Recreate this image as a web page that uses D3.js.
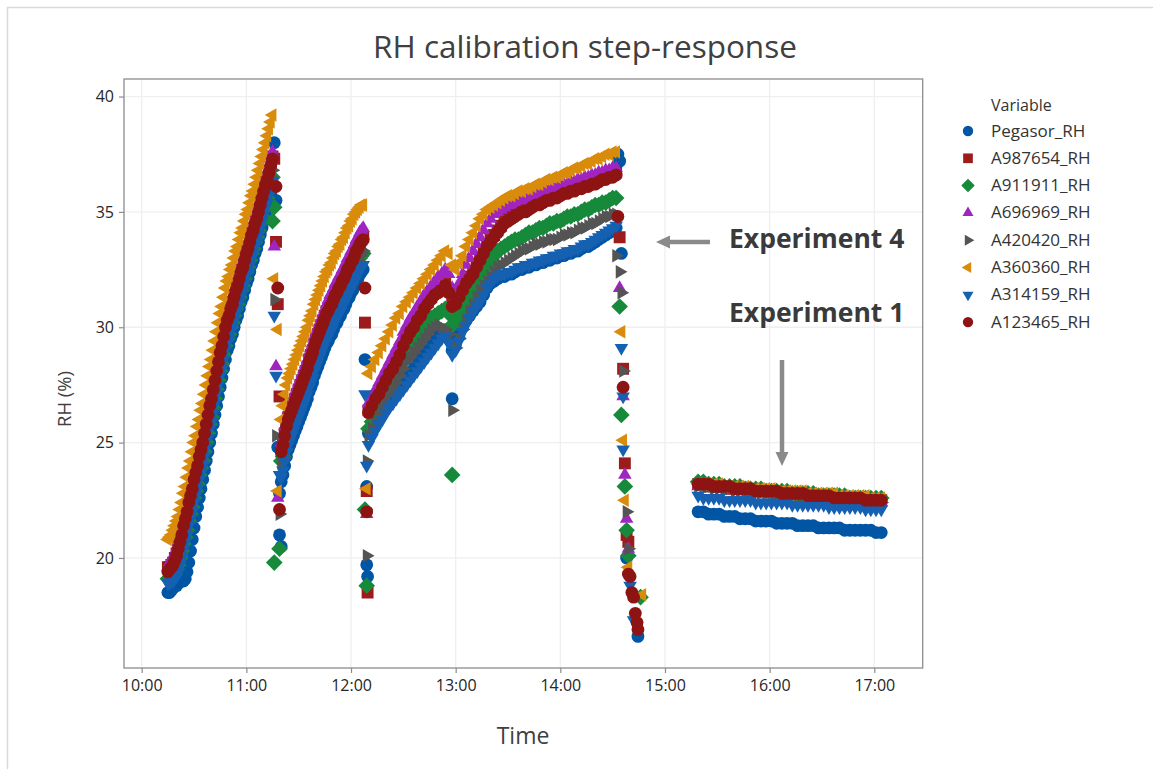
<!DOCTYPE html>
<html>
<head>
<meta charset="utf-8">
<script src="https://cdn.jsdelivr.net/npm/d3@7"></script>
<style>
  body { margin: 0; background: #fff; }
  svg { display: block; }
  text { font-family: "Open Sans", "Noto Sans", sans-serif; }
</style>
</head>
<body>
<svg id="chart" width="1153" height="769"></svg>
<script>
// ---------- axis ticks ----------
const hourTicks = ["10:00", "11:00", "12:00", "13:00", "14:00", "15:00", "16:00", "17:00"];
const rhTicks = [20, 25, 30, 35, 40];

// ---------- logging segments: start time and sample interval (minutes) ----------
const segStarts = ["10:15", "11:20", "12:10", "15:19"];
const segSteps = [1, 1, 2, 3];

// ---------- Pegasor_RH ----------
const pegasorA = [18.5,18.5,18.6,18.7,18.8,18.8,18.9,19.0,19.0,19.0,19.1,19.4,19.8,20.3,20.8,21.3,21.8,22.2,22.6,23.0,23.4,23.8,24.2,24.6,25.0,25.4,25.8,26.2,26.6,27.0,27.4,27.8,28.2,28.6,29.0,29.2,29.5,29.7,30.0,30.3,30.5,30.8,31.1,31.3,31.6,31.9,32.1,32.4,32.7,32.9,33.2,33.4,33.7,34.0,34.3,34.6,34.9,35.2,35.5,35.8,36.1];
const pegasorB = [23.3,23.6,24.0,24.4,24.7,24.9,25.1,25.3,25.5,25.7,25.9,26.1,26.3,26.5,26.7,26.9,27.2,27.4,27.6,27.9,28.1,28.3,28.5,28.7,28.9,29.1,29.3,29.4,29.6,29.7,29.9,30.1,30.2,30.4,30.5,30.7,30.8,31.0,31.2,31.3,31.5,31.6,31.8,32.0,32.1,32.3,32.4,32.5];
const pegasorC = [25.4,25.6,25.9,26.1,26.3,26.6,26.8,27.0,27.2,27.4,27.6,27.8,28.0,28.2,28.4,28.6,28.8,29.0,29.2,29.4,29.6,29.8,29.9,29.6,29.0,29.3,29.7,30.0,30.3,30.5,30.7,30.9,31.1,31.4,31.7,31.9,32.0,32.1,32.2,32.2,32.3,32.3,32.4,32.5,32.5,32.6,32.6,32.7,32.7,32.8,32.8,32.9,32.9,33.0,33.0,33.1,33.1,33.2,33.2,33.3,33.3,33.4,33.5,33.5,33.6,33.7,33.8,33.9,34.0,34.1,34.2,34.3];
const pegasorD = [22.0,22.0,21.9,21.9,21.9,21.8,21.8,21.8,21.7,21.7,21.7,21.6,21.6,21.6,21.6,21.5,21.5,21.5,21.5,21.4,21.4,21.4,21.4,21.3,21.3,21.3,21.3,21.3,21.2,21.2,21.2,21.2,21.2,21.2,21.1,21.1];
const pegasorSteps = [["11:16",38.0],["11:17",35.5],["11:18",24.8],["11:19",22.8],["11:19",21.0],["11:20",20.5],["12:08",28.6],["12:09",23.1],["12:09",19.7],["12:09:30",19.2],["12:58",26.9],["14:33",37.5],["14:34",37.2],["14:35",33.2],["14:38",20.0],["14:44:30",16.6]];

// ---------- A987654_RH ----------
const a987654A = [19.6,19.6,19.7,19.8,20.0,20.2,20.5,20.8,21.1,21.5,21.8,22.1,22.5,22.8,23.1,23.5,23.8,24.1,24.5,24.8,25.1,25.5,25.9,26.3,26.7,27.0,27.4,27.8,28.2,28.6,29.0,29.3,29.7,30.1,30.4,30.6,30.9,31.1,31.4,31.7,31.9,32.2,32.5,32.7,33.0,33.3,33.5,33.8,34.1,34.3,34.6,34.8,35.1,35.4,35.7,36.0,36.3,36.5,36.8,37.1,37.4];
const a987654B = [24.7,25.0,25.4,25.8,26.1,26.3,26.5,26.7,26.9,27.1,27.3,27.5,27.7,27.9,28.1,28.3,28.6,28.8,29.0,29.3,29.5,29.7,29.9,30.1,30.3,30.5,30.7,30.8,31.0,31.1,31.3,31.5,31.6,31.8,31.9,32.1,32.2,32.4,32.6,32.7,32.9,33.0,33.2,33.4,33.5,33.7,33.8,33.9];
const a987654C = [26.4,26.7,27.0,27.2,27.5,27.8,28.1,28.3,28.6,28.9,29.3,29.6,29.9,30.1,30.4,30.6,30.9,31.1,31.3,31.5,31.6,31.7,31.9,31.6,31.0,31.1,31.4,31.7,32.0,32.2,32.4,32.7,33.0,33.3,33.6,33.8,34.0,34.2,34.4,34.6,34.7,34.8,34.9,35.0,35.1,35.1,35.2,35.3,35.4,35.4,35.5,35.6,35.6,35.7,35.7,35.8,35.9,35.9,36.0,36.0,36.1,36.1,36.2,36.2,36.3,36.3,36.4,36.5,36.5,36.6,36.6,36.7];
const a987654D = [23.2,23.2,23.1,23.1,23.1,23.1,23.0,23.0,23.0,23.0,22.9,22.9,22.9,22.9,22.9,22.8,22.8,22.8,22.8,22.8,22.7,22.7,22.7,22.7,22.7,22.6,22.6,22.6,22.6,22.6,22.5,22.5,22.5,22.5,22.5,22.5];
const a987654Steps = [["11:16",37.3],["11:17",33.7],["11:18",31.0],["11:19",27.0],["12:08",30.2],["12:09",22.9],["12:09:30",18.5],["14:34",33.9],["14:36",28.2],["14:37",24.1],["14:38",21.0],["14:39",20.7]];

// ---------- A911911_RH ----------
const a911911A = [19.1,19.1,19.2,19.2,19.3,19.5,19.7,20.0,20.3,20.6,20.9,21.2,21.6,21.9,22.2,22.6,22.9,23.2,23.6,23.9,24.2,24.6,25.0,25.4,25.8,26.1,26.5,26.9,27.3,27.7,28.1,28.4,28.8,29.2,29.5,29.7,30.0,30.2,30.5,30.8,31.0,31.3,31.6,31.8,32.1,32.4,32.6,32.9,33.2,33.4,33.7,33.9,34.2,34.5,34.8,35.1,35.4,35.6,35.9,36.2,36.5];
const a911911B = [24.2,24.4,24.7,25.1,25.4,25.6,25.8,26.0,26.2,26.4,26.6,26.8,27.0,27.2,27.4,27.6,27.9,28.1,28.3,28.6,28.8,29.0,29.2,29.4,29.6,29.8,30.0,30.1,30.3,30.4,30.6,30.8,30.9,31.1,31.2,31.4,31.5,31.7,31.9,32.0,32.2,32.3,32.5,32.7,32.8,33.0,33.1,33.2];
const a911911C = [25.6,25.9,26.2,26.5,26.8,27.1,27.4,27.7,28.0,28.3,28.6,28.9,29.2,29.4,29.6,29.8,30.0,30.2,30.4,30.5,30.6,30.7,30.8,30.6,30.1,30.2,30.5,30.8,31.1,31.4,31.7,32.0,32.3,32.5,32.7,32.9,33.1,33.3,33.4,33.5,33.6,33.7,33.8,33.8,33.9,34.0,34.1,34.1,34.2,34.3,34.3,34.4,34.5,34.5,34.6,34.6,34.7,34.8,34.8,34.9,34.9,35.0,35.1,35.1,35.2,35.3,35.3,35.4,35.4,35.5,35.6,35.6];
const a911911D = [23.3,23.3,23.2,23.2,23.2,23.1,23.1,23.1,23.1,23.0,23.0,23.0,23.0,22.9,22.9,22.9,22.9,22.9,22.8,22.8,22.8,22.8,22.8,22.7,22.7,22.7,22.7,22.7,22.7,22.6,22.6,22.6,22.6,22.6,22.6,22.6];
const a911911Steps = [["11:15",34.6],["11:16",35.2],["11:19",20.4],["11:16",19.8],["12:08",22.1],["12:09",18.8],["12:58",23.6],["14:34",30.9],["14:35",26.2],["14:37",23.1],["14:38",21.2],["14:39",20.1],["14:46",18.3]];

// ---------- A696969_RH ----------
const a696969A = [19.6,19.8,19.9,20.0,20.2,20.4,20.7,21.0,21.3,21.7,22.0,22.3,22.7,23.0,23.3,23.7,24.0,24.3,24.7,25.0,25.3,25.7,26.1,26.5,26.9,27.2,27.6,28.0,28.4,28.8,29.2,29.5,29.9,30.3,30.6,30.8,31.1,31.3,31.6,31.9,32.1,32.4,32.7,32.9,33.2,33.5,33.7,34.0,34.3,34.5,34.8,35.0,35.3,35.6,35.9,36.2,36.5,36.7,37.0,37.3,37.6];
const a696969B = [25.0,25.3,25.7,26.1,26.4,26.6,26.8,27.0,27.2,27.4,27.6,27.8,28.0,28.2,28.4,28.6,28.9,29.1,29.3,29.6,29.8,30.0,30.2,30.4,30.6,30.8,31.0,31.2,31.4,31.5,31.7,31.9,32.0,32.2,32.3,32.5,32.6,32.8,33.0,33.1,33.3,33.4,33.6,33.8,33.9,34.1,34.2,34.3];
const a696969C = [26.7,27.0,27.3,27.6,27.9,28.2,28.5,28.8,29.1,29.4,29.8,30.1,30.4,30.6,30.9,31.1,31.4,31.6,31.8,32.0,32.2,32.3,32.5,32.3,31.7,31.6,31.9,32.3,32.7,33.0,33.3,33.6,33.9,34.2,34.5,34.7,34.9,35.0,35.1,35.2,35.3,35.3,35.4,35.5,35.5,35.6,35.6,35.7,35.8,35.8,35.9,35.9,36.0,36.0,36.1,36.1,36.2,36.2,36.3,36.3,36.4,36.4,36.5,36.5,36.6,36.6,36.7,36.7,36.8,36.8,36.9,36.9];
const a696969D = [23.1,23.1,23.1,23.1,23.0,23.0,23.0,23.0,22.9,22.9,22.9,22.9,22.9,22.8,22.8,22.8,22.8,22.8,22.7,22.7,22.7,22.7,22.7,22.6,22.6,22.6,22.6,22.6,22.6,22.5,22.5,22.5,22.5,22.5,22.5,22.4];
const a696969Steps = [["11:16",33.5],["11:17",28.3],["11:18",22.6],["12:09",21.9],["14:34",31.7],["14:36",27.0],["14:37",23.6],["14:38",21.7],["14:39",20.4]];

// ---------- A420420_RH ----------
const a420420A = [19.2,19.2,19.3,19.4,19.5,19.7,19.9,20.2,20.5,20.9,21.2,21.5,21.9,22.2,22.5,22.9,23.2,23.5,23.9,24.2,24.5,24.9,25.3,25.7,26.1,26.4,26.8,27.2,27.6,28.0,28.4,28.7,29.1,29.5,29.8,30.0,30.3,30.5,30.8,31.1,31.3,31.6,31.9,32.1,32.4,32.7,32.9,33.2,33.5,33.7,34.0,34.2,34.5,34.8,35.1,35.4,35.7,35.9,36.2,36.5,36.8];
const a420420B = [24.1,24.4,24.8,25.2,25.5,25.7,25.9,26.1,26.3,26.5,26.7,26.9,27.1,27.3,27.5,27.7,28.0,28.2,28.4,28.7,28.9,29.1,29.3,29.5,29.7,29.9,30.1,30.2,30.4,30.5,30.7,30.9,31.0,31.2,31.3,31.5,31.6,31.8,32.0,32.1,32.3,32.4,32.6,32.8,32.9,33.1,33.2,33.3];
const a420420C = [25.3,25.6,25.9,26.2,26.5,26.8,27.1,27.3,27.6,27.9,28.2,28.5,28.7,28.9,29.1,29.3,29.5,29.7,29.9,30.0,30.1,30.0,29.9,29.7,29.3,29.1,29.5,29.9,30.3,30.7,31.0,31.3,31.6,31.8,32.0,32.2,32.4,32.6,32.7,32.8,32.9,33.0,33.1,33.2,33.3,33.4,33.4,33.5,33.6,33.6,33.7,33.7,33.8,33.8,33.8,33.9,34.0,34.0,34.1,34.1,34.2,34.3,34.3,34.4,34.5,34.5,34.6,34.7,34.8,34.8,34.9,34.9];
const a420420D = [23.1,23.1,23.1,23.0,23.0,23.0,23.0,22.9,22.9,22.9,22.9,22.9,22.8,22.8,22.8,22.8,22.8,22.7,22.7,22.7,22.7,22.7,22.6,22.6,22.6,22.6,22.6,22.5,22.5,22.5,22.5,22.5,22.5,22.4,22.4,22.4];
const a420420Steps = [["11:16",31.2],["11:17",25.3],["11:19",21.9],["12:09",24.2],["12:09",20.1],["12:58",26.4],["14:32",33.1],["14:34",32.4],["14:35",31.5],["14:36",28.1],["14:38",22.0],["14:39",20.4]];

// ---------- A360360_RH ----------
const a360360A = [20.8,20.9,21.0,21.2,21.4,21.6,21.8,22.1,22.4,22.8,23.1,23.5,23.9,24.2,24.6,25.0,25.3,25.7,26.0,26.4,26.7,27.1,27.5,27.9,28.3,28.6,29.0,29.4,29.8,30.2,30.6,30.9,31.3,31.7,32.0,32.2,32.5,32.7,33.0,33.3,33.5,33.8,34.1,34.3,34.6,34.9,35.1,35.4,35.7,35.9,36.2,36.5,36.8,37.1,37.4,37.7,38.0,38.3,38.6,38.9,39.2];
const a360360B = [26.0,26.6,27.1,27.5,27.8,28.0,28.2,28.4,28.6,28.8,29.0,29.2,29.4,29.6,29.8,30.0,30.3,30.5,30.7,31.0,31.2,31.4,31.6,31.8,32.0,32.2,32.4,32.5,32.7,32.8,33.0,33.2,33.3,33.5,33.6,33.8,33.9,34.1,34.3,34.4,34.6,34.7,34.9,35.0,35.1,35.2,35.3,35.3];
const a360360C = [28.0,28.3,28.6,28.9,29.2,29.5,29.8,30.1,30.4,30.6,30.9,31.1,31.3,31.5,31.7,31.9,32.1,32.3,32.5,32.7,32.9,33.1,33.3,33.2,32.7,32.5,32.8,33.1,33.5,33.8,34.1,34.4,34.7,34.9,35.1,35.2,35.3,35.4,35.5,35.6,35.7,35.7,35.8,35.9,35.9,36.0,36.0,36.1,36.2,36.2,36.3,36.4,36.4,36.5,36.5,36.6,36.7,36.7,36.8,36.9,36.9,37.0,37.1,37.1,37.2,37.3,37.3,37.4,37.5,37.5,37.6,37.6];
const a360360D = [23.2,23.2,23.2,23.2,23.2,23.1,23.1,23.1,23.1,23.1,23.0,23.0,23.0,23.0,23.0,22.9,22.9,22.9,22.9,22.9,22.9,22.8,22.8,22.8,22.8,22.8,22.8,22.7,22.7,22.7,22.7,22.7,22.7,22.6,22.6,22.6];
const a360360Steps = [["11:16",32.1],["11:18",29.9],["11:18",22.9],["12:09",23.0],["14:35",29.8],["14:36",25.1],["14:37",22.5],["14:39",19.6],["14:47",18.4]];

// ---------- A314159_RH ----------
const a314159A = [18.9,18.9,19.0,19.0,19.1,19.2,19.4,19.7,20.0,20.4,20.7,21.0,21.4,21.7,22.0,22.4,22.7,23.0,23.4,23.7,24.0,24.4,24.8,25.2,25.6,25.9,26.3,26.7,27.1,27.5,27.9,28.2,28.6,29.0,29.3,29.5,29.8,30.0,30.3,30.6,30.8,31.1,31.4,31.6,31.9,32.2,32.4,32.7,33.0,33.2,33.5,33.7,34.0,34.3,34.6,34.9,35.2,35.4,35.7,36.0,36.3];
const a314159B = [23.5,23.8,24.2,24.6,24.9,25.1,25.3,25.5,25.7,25.9,26.1,26.3,26.5,26.7,26.9,27.1,27.4,27.6,27.8,28.1,28.3,28.5,28.7,28.9,29.1,29.3,29.5,29.6,29.8,29.9,30.1,30.3,30.4,30.6,30.7,30.9,31.0,31.2,31.4,31.5,31.7,31.8,32.0,32.2,32.3,32.5,32.6,32.7];
const a314159C = [24.9,25.2,25.5,25.8,26.0,26.3,26.5,26.7,26.9,27.1,27.3,27.5,27.7,27.9,28.1,28.3,28.5,28.7,28.9,29.1,29.3,29.5,29.6,29.3,28.8,29.0,29.4,29.8,30.1,30.4,30.7,30.9,31.1,31.4,31.7,31.9,32.1,32.2,32.3,32.3,32.4,32.4,32.5,32.6,32.6,32.7,32.7,32.8,32.8,32.9,32.9,33.0,33.0,33.1,33.1,33.2,33.2,33.3,33.3,33.4,33.4,33.5,33.6,33.6,33.7,33.8,33.9,34.0,34.1,34.2,34.3,34.4];
const a314159D = [22.7,22.6,22.6,22.6,22.6,22.5,22.5,22.5,22.5,22.5,22.5,22.4,22.4,22.4,22.4,22.4,22.4,22.4,22.3,22.3,22.3,22.3,22.3,22.3,22.3,22.2,22.2,22.2,22.2,22.2,22.2,22.2,22.1,22.1,22.1,22.1];
const a314159Steps = [["11:16",30.5],["11:17",27.9],["11:19",23.6],["12:08",27.1],["12:09",24.0],["14:35",29.1],["14:36",27.0],["14:36",24.7],["14:40",18.8],["14:42",17.3]];

// ---------- A123465_RH ----------
const a123465A = [19.4,19.5,19.6,19.7,19.9,20.1,20.4,20.7,21.0,21.4,21.7,22.0,22.4,22.7,23.0,23.4,23.7,24.0,24.4,24.7,25.0,25.4,25.8,26.2,26.6,26.9,27.3,27.7,28.1,28.5,28.9,29.2,29.6,30.0,30.3,30.5,30.8,31.0,31.3,31.6,31.8,32.1,32.4,32.6,32.9,33.2,33.4,33.7,34.0,34.2,34.5,34.7,35.0,35.3,35.6,35.9,36.2,36.4,36.7,37.0,37.3];
const a123465B = [24.6,24.9,25.3,25.7,26.0,26.2,26.4,26.6,26.8,27.0,27.2,27.4,27.6,27.8,28.0,28.2,28.5,28.7,28.9,29.2,29.4,29.6,29.8,30.0,30.2,30.4,30.6,30.7,30.9,31.0,31.2,31.4,31.5,31.7,31.8,32.0,32.1,32.3,32.5,32.6,32.8,32.9,33.1,33.3,33.4,33.6,33.7,33.8];
const a123465C = [26.3,26.6,26.9,27.1,27.4,27.7,28.0,28.2,28.5,28.8,29.2,29.5,29.8,30.0,30.3,30.5,30.8,31.0,31.2,31.4,31.5,31.6,31.8,31.5,30.9,31.0,31.3,31.6,31.9,32.1,32.3,32.6,32.9,33.2,33.5,33.7,33.9,34.1,34.3,34.5,34.6,34.7,34.8,34.9,35.0,35.0,35.1,35.2,35.3,35.3,35.4,35.5,35.5,35.6,35.6,35.7,35.8,35.8,35.9,35.9,36.0,36.0,36.1,36.1,36.2,36.2,36.3,36.4,36.4,36.5,36.5,36.6];
const a123465D = [23.2,23.2,23.2,23.1,23.1,23.1,23.1,23.0,23.0,23.0,23.0,22.9,22.9,22.9,22.9,22.9,22.8,22.8,22.8,22.8,22.8,22.7,22.7,22.7,22.7,22.7,22.6,22.6,22.6,22.6,22.6,22.6,22.5,22.5,22.5,22.5];
const a123465Steps = [["11:17",36.1],["11:18",31.7],["11:19",22.1],["12:08",31.7],["12:09",22.0],["14:33",34.8],["14:36",27.4],["14:39",19.3],["14:40",19.2],["14:41",18.5],["14:42",18.3],["14:43",17.6],["14:44",17.2],["14:44:30",16.9]];

// ---------- series (draw order = legend order) ----------
const seriesNames = ["Pegasor_RH", "A987654_RH", "A911911_RH", "A696969_RH", "A420420_RH", "A360360_RH", "A314159_RH", "A123465_RH"];
const seriesSegments = [
  [pegasorA, pegasorB, pegasorC, pegasorD],
  [a987654A, a987654B, a987654C, a987654D],
  [a911911A, a911911B, a911911C, a911911D],
  [a696969A, a696969B, a696969C, a696969D],
  [a420420A, a420420B, a420420C, a420420D],
  [a360360A, a360360B, a360360C, a360360D],
  [a314159A, a314159B, a314159C, a314159D],
  [a123465A, a123465B, a123465C, a123465D]
];
const seriesSteps = [pegasorSteps, a987654Steps, a911911Steps, a696969Steps, a420420Steps, a360360Steps, a314159Steps, a123465Steps];

// ---------- styling ----------
const seriesColors = ["#0055A5", "#9C1B1B", "#168A3A", "#A024C0", "#545454", "#D98B0B", "#1660B2", "#8E1414"];
const seriesShapes = ["circle", "square", "diamond", "triUp", "triRight", "triLeft", "triDown", "circle"];

const W = 1153, H = 769;
const plot = { left: 124, right: 922.7, top: 79, bottom: 668 };

const parseTime = s => {
  const [h, m, sec] = s.split(":").map(Number);
  return new Date(2000, 0, 1, h, m, sec || 0);
};

const x = d3.scaleTime()
  .domain([parseTime("09:49:51"), parseTime("17:27:45")])
  .range([plot.left, plot.right]);
const y = d3.scaleLinear()
  .domain([15.23, 40.76])
  .range([plot.bottom, plot.top]);

// marker shapes, "size" is a nominal radius in px
function triangle(angleDeg) {
  return {
    draw(ctx, r) {
      const R = r * 1.22;
      for (let k = 0; k < 3; k++) {
        const a = (angleDeg + 120 * k) * Math.PI / 180;
        const px = R * Math.cos(a), py = R * Math.sin(a);
        if (k === 0) ctx.moveTo(px, py); else ctx.lineTo(px, py);
      }
      ctx.closePath();
    }
  };
}
const shapeTypes = {
  circle: { draw(ctx, r) { ctx.moveTo(r, 0); ctx.arc(0, 0, r, 0, 2 * Math.PI); } },
  square: { draw(ctx, r) { const s = r * 0.93; ctx.rect(-s, -s, 2 * s, 2 * s); } },
  diamond: { draw(ctx, r) { const d = r * 1.3; ctx.moveTo(0, -d); ctx.lineTo(d, 0); ctx.lineTo(0, d); ctx.lineTo(-d, 0); ctx.closePath(); } },
  triUp: triangle(-90),
  triRight: triangle(0),
  triLeft: triangle(180),
  triDown: triangle(90)
};
const symbolPath = (shape, r) => d3.symbol().type(shapeTypes[shape]).size(r)();

// build the point table for each series
const seriesPoints = seriesNames.map((name, si) => {
  const pts = [];
  seriesSegments[si].forEach((vals, gi) => {
    const t0 = parseTime(segStarts[gi]);
    vals.forEach((v, i) => pts.push({ t: new Date(+t0 + i * segSteps[gi] * 60000), v }));
  });
  seriesSteps[si].forEach(([t, v]) => pts.push({ t: parseTime(t), v }));
  return pts;
});

const svg = d3.select("#chart");

// outer frame of the graph window
svg.append("rect")
  .attr("x", 7.5).attr("y", 7.5).attr("width", W).attr("height", H)
  .attr("fill", "#fff").attr("stroke", "#d9d9d9").attr("stroke-width", 1.5);

// title
svg.append("text")
  .attr("x", 585).attr("y", 58)
  .attr("text-anchor", "middle")
  .attr("font-size", 31.5).attr("fill", "#404040")
  .text("RH calibration step-response");

// gridlines
const grid = svg.append("g");
grid.selectAll("line.gx").data(hourTicks).join("line")
  .attr("x1", d => x(parseTime(d))).attr("x2", d => x(parseTime(d)))
  .attr("y1", plot.top).attr("y2", plot.bottom)
  .attr("stroke", "#efefef").attr("stroke-width", 1.3);
grid.selectAll("line.gy").data(rhTicks).join("line")
  .attr("y1", d => y(d)).attr("y2", d => y(d))
  .attr("x1", plot.left).attr("x2", plot.right)
  .attr("stroke", "#efefef").attr("stroke-width", 1.3);

// axes
const xAxis = d3.axisBottom(x)
  .tickValues(hourTicks.map(parseTime))
  .tickFormat(d3.timeFormat("%H:%M"))
  .tickSize(5).tickPadding(7);
const yAxis = d3.axisLeft(y)
  .tickValues(rhTicks)
  .tickSize(5).tickPadding(5);

const gx = svg.append("g").attr("transform", `translate(0,${plot.bottom})`).call(xAxis);
const gy = svg.append("g").attr("transform", `translate(${plot.left},0)`).call(yAxis);
[gx, gy].forEach(g => {
  g.select(".domain").remove();
  g.selectAll(".tick line").attr("stroke", "#8c8c8c").attr("stroke-width", 1.2);
  g.selectAll(".tick text")
    .attr("font-family", '"Open Sans", "Noto Sans", sans-serif')
    .attr("font-size", 16).attr("fill", "#262626");
});

// axis titles
svg.append("text")
  .attr("x", 523).attr("y", 744)
  .attr("text-anchor", "middle")
  .attr("font-size", 23).attr("fill", "#404040")
  .text("Time");
svg.append("text")
  .attr("transform", "translate(71,399) rotate(-90)")
  .attr("text-anchor", "middle")
  .attr("font-size", 18.5).attr("fill", "#404040")
  .text("RH (%)");

// data markers
svg.append("clipPath").attr("id", "plotClip")
  .append("rect")
  .attr("x", plot.left).attr("y", plot.top)
  .attr("width", plot.right - plot.left).attr("height", plot.bottom - plot.top);

const marks = svg.append("g").attr("clip-path", "url(#plotClip)");
seriesNames.forEach((name, si) => {
  marks.append("g")
    .attr("fill", seriesColors[si])
    .selectAll("path")
    .data(seriesPoints[si])
    .join("path")
    .attr("transform", d => `translate(${x(d.t)},${y(d.v)})`)
    .attr("d", symbolPath(seriesShapes[si], 6.4));
});

// plot frame
svg.append("rect")
  .attr("x", plot.left).attr("y", plot.top)
  .attr("width", plot.right - plot.left).attr("height", plot.bottom - plot.top)
  .attr("fill", "none").attr("stroke", "#8c8c8c").attr("stroke-width", 1.3);

// annotations
const note = svg.append("g").attr("fill", "#3a3a3a");
note.append("text").attr("x", 729).attr("y", 248)
  .attr("font-size", 26.5).attr("font-weight", 700).text("Experiment 4");
note.append("text").attr("x", 729).attr("y", 322)
  .attr("font-size", 26.5).attr("font-weight", 700).text("Experiment 1");

const arrows = svg.append("g").attr("fill", "#8a8a8a").attr("stroke", "#8a8a8a");
// left-pointing arrow next to Experiment 4
arrows.append("line").attr("x1", 710).attr("y1", 242).attr("x2", 668).attr("y2", 242)
  .attr("stroke-width", 4.5);
arrows.append("path").attr("stroke", "none")
  .attr("d", "M656,242 L670,235.5 L670,248.5 Z");
// downward arrow under Experiment 1
arrows.append("line").attr("x1", 782).attr("y1", 360).attr("x2", 782).attr("y2", 452)
  .attr("stroke-width", 4.5);
arrows.append("path").attr("stroke", "none")
  .attr("d", "M782,466 L775.5,452 L788.5,452 Z");

// legend
const legend = svg.append("g");
legend.append("text").attr("x", 991).attr("y", 111)
  .attr("font-size", 16).attr("fill", "#333").text("Variable");
const legendRow = 27.3;
seriesNames.forEach((name, si) => {
  const cy = 131 + si * legendRow;
  legend.append("path")
    .attr("transform", `translate(968,${cy})`)
    .attr("fill", seriesColors[si])
    .attr("d", symbolPath(seriesShapes[si], 5.2));
  legend.append("text").attr("x", 991).attr("y", cy + 5.5)
    .attr("font-size", 17).attr("fill", "#333").text(name);
});
</script>
</body>
</html>
